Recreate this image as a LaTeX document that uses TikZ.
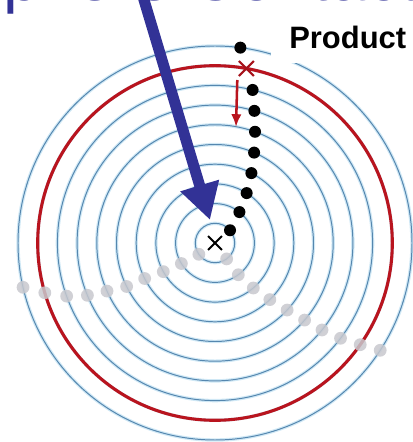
\documentclass[tikz,border=0pt]{standalone}
\usepackage{fontspec}
\setmainfont{Liberation Sans}
\usetikzlibrary{arrows.meta,positioning,shapes.misc}
\definecolor{ringblue}{RGB}{85,135,175}
\definecolor{ringhalo}{RGB}{208,232,245}
\definecolor{ringred}{RGB}{185,20,30}
\definecolor{arrowblue}{RGB}{50,50,150}
\definecolor{dotgrey}{RGB}{200,200,206}

\begin{document}
\begin{tikzpicture}[x=0.025cm, y=0.025cm,
  bdot/.style={circle, fill=black, inner sep=0pt, minimum size=0.3cm},
  gdot/.style={circle, fill=dotgrey, opacity=0.85, inner sep=0pt, minimum size=0.32cm},
  xmark/.style={cross out, draw, inner sep=0pt, minimum size=0.3cm}]
\useasboundingbox (0,0) rectangle (413,442);
\clip (0,0) rectangle (413,442);
\coordinate (c) at (215,199);
% rings
\foreach \k in {1,...,10} \draw[ringhalo, line width=2.4pt] (c) circle[radius=19.7*\k];
\foreach \k in {1,...,10} \draw[ringblue, line width=0.7pt] (c) circle[radius=19.7*\k];
\draw[ringred, line width=2.2pt] (c) circle[radius=177.3];
% grey dots
\foreach \a/\k in {215/1, 211.4/2, 209/3, 206.8/4, 206.2/5, 204/6, 202.3/7, 199.7/8, 196.3/9, 193/10}
  \node[gdot] (gl\k) at ([shift={(\a:19.7*\k)}]c) {};
\foreach \a/\k in {-53.8/1, -53.7/2, -49.6/3, -45.9/4, -42.9/5, -40.7/6, -39.1/7, -37.2/8, -35/9, -33/10}
  \node[gdot] (gr\k) at ([shift={(\a:19.7*\k)}]c) {};
% black dots
\foreach \a/\k in {40.3/1, 51.7/2, 57.6/3, 62.5/4, 66.6/5, 70.2/6, 73.4/7, 76.2/8, 82.6/10}
  \node[bdot] (b\k) at ([shift={(\a:19.7*\k)}]c) {};
\node[xmark, draw=ringred!90!black, line width=1.5pt, minimum size=0.32cm] (b9) at ([shift={(79.8:177.3)}]c) {};
\node[xmark, line width=1.3pt] (centre) at (c) {};
% arrows
\coordinate (redtop) at (237.3,362);
\coordinate (redtip) at (236,315);
\draw[-{Latex[length=0.32cm, width=0.26cm]}, line width=1.8pt, ringred] (redtop) -- (redtip);
\coordinate (bluetop) at (141,452);
\coordinate (bluetip) at (210,222);
\draw[-{Triangle[length=0.9cm, width=0.95cm]}, line width=7.8pt, arrowblue] (bluetop) -- (bluetip);
% labels
\node[fill=white, anchor=base west, inner xsep=0.45cm, inner ysep=0pt, text height=0.725cm, text depth=0.35cm,
  font=\bfseries\fontsize{22}{26}\selectfont] (product) at (271,393) {Product};
\node[anchor=base west, inner sep=0pt, text=arrowblue, font=\fontsize{47}{56}\selectfont] (title) at (3,441) {phere Contact};
\end{tikzpicture}
\end{document}
